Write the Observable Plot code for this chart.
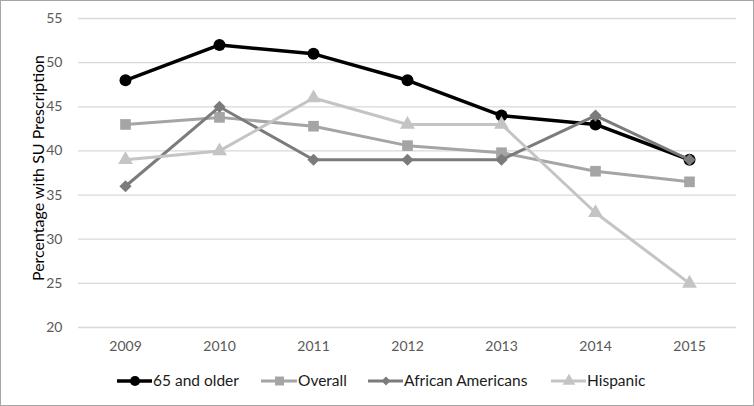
<!DOCTYPE html>
<html>
<head>
<meta charset="utf-8">
<script src="https://cdn.jsdelivr.net/npm/d3@7"></script>
<script src="https://cdn.jsdelivr.net/npm/@observablehq/plot@0.6"></script>
<style>
  html, body { margin: 0; padding: 0; background: #fff; }
  #frame { box-sizing: border-box; width: 754px; height: 406px; border: 1px solid #a6a6a6; background: #fff; font-family: Lato, "Open Sans", sans-serif; position: relative; overflow: hidden; }
  #legend { position: absolute; left: 0; top: 366px; width: 752px; height: 30px; }
</style>
</head>
<body>
<div id="frame"><div id="chart"></div><svg id="legend" width="752" height="30"></svg></div>
<script>
const years = ["2009", "2010", "2011", "2012", "2013", "2014", "2015"];
const seriesNames = ["65 and older", "Overall", "African Americans", "Hispanic"];
const older65 = [48, 52, 51, 48, 44, 43, 39];
const overall = [43, 43.8, 42.8, 40.6, 39.8, 37.7, 36.5];
const africanAmericans = [36, 45, 39, 39, 39, 44, 39];
const hispanic = [39, 40, 46, 43, 43, 33, 25];
const yTicks = [20, 25, 30, 35, 40, 45, 50, 55];

const colors = ["#000000", "#a5a5a5", "#7b7b7b", "#c4c4c4"];
const symbols = ["circle", "square", "diamond2", "triangle"];
const radii = [6, 6, 5.5, 5.5];
const widths = [3.5, 3, 3, 3];
const valuesList = [older65, overall, africanAmericans, hispanic];

const data = [];
seriesNames.forEach((s, i) => years.forEach((y, j) => data.push({series: s, year: y, value: valuesList[i][j]})));

const marks = [
  Plot.gridY(yTicks, {stroke: "#d9d9d9", strokeOpacity: 1, strokeWidth: 1.3})
];
seriesNames.forEach((s, i) => {
  const d = data.filter(r => r.series === s);
  marks.push(Plot.line(d, {x: "year", y: "value", stroke: colors[i], strokeWidth: widths[i], strokeLinejoin: "round"}));
  marks.push(Plot.dot(d, {x: "year", y: "value", fill: colors[i], stroke: "none", symbol: () => symbols[i], r: radii[i]}));
});
marks.push(Plot.axisY(yTicks, {tickSize: 0, tickPadding: 16, fontSize: 14, color: "#595959", label: null}));
marks.push(Plot.axisX(years, {tickSize: 0, tickPadding: 14, fontSize: 14, color: "#595959", label: null}));
marks.push(Plot.text(["Percentage with SU Prescription"], {frameAnchor: "left", textAnchor: "middle", dx: -40, dy: -5, rotate: -90, fontSize: 16, fill: "#000"}));

const chart = Plot.plot({
  width: 752, height: 364,
  marginLeft: 77, marginRight: 17, marginTop: 17, marginBottom: 38,
  style: {fontFamily: "Lato, 'Open Sans', sans-serif", background: "transparent", overflow: "visible"},
  x: {type: "point", domain: years, padding: 0.5},
  y: {domain: [20, 55]},
  symbol: {type: "identity"},
  marks
});
document.getElementById("chart").appendChild(chart);

// legend
const leg = d3.select("#legend");
const items = [[116, 152], [260, 297], [367, 403], [550, 586]];
seriesNames.forEach((s, i) => {
  const [x0, tx] = items[i];
  const g = leg.append("g");
  g.append("line").attr("x1", x0).attr("x2", tx - 1).attr("y1", 14).attr("y2", 14)
    .attr("stroke", colors[i]).attr("stroke-width", widths[i]);
  const sym = d3.symbol().type([d3.symbolCircle, d3.symbolSquare, d3.symbolDiamond2, d3.symbolTriangle][i])
    .size([80, 80, 50, 70][i]);
  g.append("path").attr("d", sym()).attr("transform", `translate(${(x0 + tx) / 2},14)`).attr("fill", colors[i]);
  g.append("text").attr("x", tx).attr("y", 14).attr("dy", "0.35em").attr("font-size", 15.5)
    .attr("fill", "#1a1a1a").attr("font-family", "Lato, 'Open Sans', sans-serif").text(s);
});
</script>
</body>
</html>
